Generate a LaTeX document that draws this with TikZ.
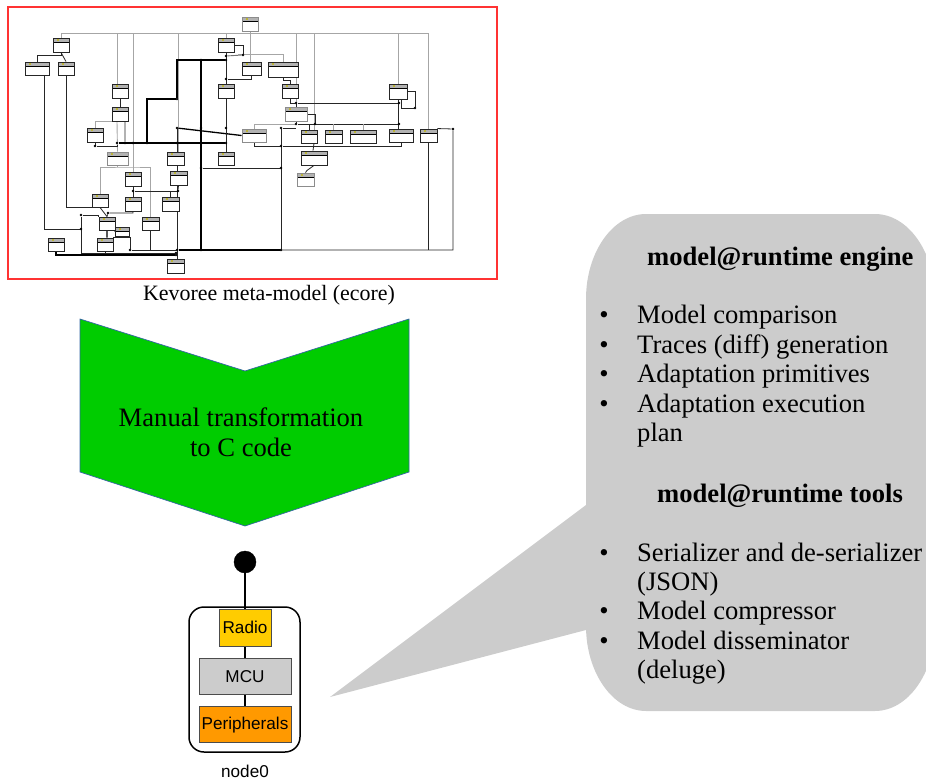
\documentclass[tikz,border=0pt]{standalone}
\usepackage{fontspec}
\setmainfont{Liberation Serif}
\setsansfont{Liberation Sans}
\usepackage{tikz}
\usetikzlibrary{backgrounds,fit,calc}

\definecolor{framered}{HTML}{FF3333}
\definecolor{arrowgreen}{HTML}{00CC00}
\definecolor{arrowedge}{HTML}{3465A4}
\definecolor{bubblegrey}{HTML}{CCCCCC}
\definecolor{radioyellow}{HTML}{FFCC00}
\definecolor{periorange}{HTML}{FF9900}

\begin{document}
\begin{tikzpicture}[x=1bp,y=-1bp]
    % `classbox' is one class of the meta-model, `greybox' a faded one.
    % `joint' is a small dot where the black links meet.
    % `link', `heavylink' and `inherit' are the meta-model lines.
    \tikzstyle{classbox} = [draw=black!85,line width=0.9bp,fill=white,inner sep=0pt,path picture={
\fill[black!30] (path picture bounding box.north west) rectangle ([yshift=-4bp]path picture bounding box.north east);
\fill[yellow!70!black] ([xshift=4bp,yshift=-1bp]path picture bounding box.north west) rectangle ++(2,2);
\draw[black,line width=0.6bp] ([yshift=-4bp]path picture bounding box.north west) -- ([yshift=-4bp]path picture bounding box.north east);
}]
    \tikzstyle{greybox} = [classbox,draw=black!45]
    \tikzstyle{joint} = [draw=none,fill=black,shape=circle,minimum size=2.6bp,inner sep=0pt]
    \tikzstyle{link} = [draw=black!85,line width=0.8bp]
    \tikzstyle{heavylink} = [draw=black,line width=1.3bp]
    \tikzstyle{inherit} = [draw=black!35,line width=0.9bp]
    \tikzstyle{bigtext} = [font=\fontsize{26.7}{30}\selectfont,inner sep=0pt]
    \tikzstyle{hwbox} = [draw=black!70,line width=0.7bp,font=\fontsize{17.2}{20}\sffamily\selectfont,inner sep=0pt]
    %
    \useasboundingbox (0,0) rectangle (926,779);
    % Meta-model frame and classes.
    \node[draw=framered,line width=1.8bp,minimum width=489bp,minimum height=272bp] (frame) at (252.5,143) {};
    \foreach \cname/\cx/\cy/\cw/\ch in {
      c1/61/45/16/14, c2/37/68.5/24/13, c3/66/68.5/16/13, c5/226/45/16/14,
      c6/226/91/16/14, c7/120/91/16/14, c8/120/114/16/14, c9/95/135/16/14,
      c10/251.5/68.5/19/13, c11/283/69.5/30/15, c12/290/91/16/14, c13/398/91.5/18/15,
      c16/309/136.5/16/13, c17/333.5/136.5/17/13, c18/363/136.5/26/13, c19/401/135.5/24/13,
      c20/428.5/135.5/17/13, c22/175.5/158.5/17/13, c23/226/158.5/16/13, c24/133/179/16/14,
      c25/178.5/178/17/14, c26/100/200.5/16/13, c27/133/204/16/14, c28/170.5/204/17/14,
      c29/107/223.5/16/13, c30/150.5/223.5/17/13, c31/122/231.5/14/9, c32/56/244.5/16/13,
      c33/105/244.5/16/13, c34/175.5/266/17/14, c35/314/158/26/14}
      \node[classbox,minimum width=\cw bp,minimum height=\ch bp] (\cname) at (\cx,\cy) {};
    \foreach \cname/\cx/\cy/\cw/\ch in {
      c4/250/24/16/14, c14/296/114/22/14, c15/254/135.5/24/13, c21/117.5/158.5/21/13, c36/305.5/179.5/17/13}
      \node[greybox,minimum width=\cw bp,minimum height=\ch bp] (\cname) at (\cx,\cy) {};
    % Points where the lines meet.
    \foreach \jname/\jx/\jy in {
      ja/147/143, jb/177/99, jc/226/60, jd/201/60, je/201/250, jf/177/128, jg/281/128,
      jh/117/143, ji/281/146, jk/201/168, jl/281/168, jm/281/250, jn/177/250, jo/453/129,
      jp/296/103, jq/399/103, jr/296/124, js/399/124, jt/315/124, ju/415/108, jv/133/191,
      jw/178/191, jx/108/213, jy/81/215, jz/81/229, ka/176/253, kb/130/250, kc/176/255,
      kd/226/79, ke/226/56, kf/243/55, kg/95/146, kh/201/128, ki/226/128, kk/177/143, kl/226/143,
      km/125/143, kn/133/143}
      \node[joint] (\jname) at (\jx,\jy) {};
    \coordinate (bus) at (250,33);
    \coordinate (subbus) at (238,54);
    \coordinate (fadebus) at (130,167);
    %
    \begin{pgfonlayer}{background}
        % Draw inheritance lines.
        \draw[inherit] (c1.north) |- (bus) -| (c20.north);
        \draw[inherit] ([xshift=-3bp]c7.north) |- (bus);
        \draw[inherit] (c24.north) |- (bus);
        \draw[inherit] ([xshift=2.5bp]c22.north) |- (bus);
        \draw[inherit] (c5.north) |- (bus);
        \draw[inherit] (c14.north) |- (bus);
        \draw[inherit] ([xshift=5bp]c16.north) |- (bus);
        \draw[inherit] (c13.north) |- (bus);
        \draw[inherit] (c4.south) -- (c4.south |- c10.north);
        \draw[inherit] (c11.north) |- (subbus);
        \draw[inherit] (c9.north) |- (c8.south);
        \draw[inherit] ([xshift=-3bp]c8.south) -- (c21.north);
        \draw[inherit] (c26.north) |- (fadebus) -| (c30.north);
        \draw[inherit] (c21.south) -- (c21.south |- fadebus);
        \draw[inherit,line width=0.6bp] (c15.north) |- (jr);
        % Draw links.
        \draw[link] (c2.north) |- ([yshift=-3bp]c1.south) -- (c1.south);
        \draw[link] (c3.north) -- (c1.south);
        \draw[link] ([xshift=7bp]c2.south) |- (jz);
        \draw[link] (c3.south) |- (c26.south west);
        \draw[heavylink] (ja) |- (jb) |- (jc);
        \draw[heavylink] (jd) -- (je);
        \draw[heavylink] (jh) -- (kl);
        \draw[heavylink] (jf) -- (c15.west);
        \draw[link] (jg) -- (jp |- jg);
        \draw[link] (c15.south) |- (ji) -| (c19.south);
        \draw[link] ([xshift=5bp]c8.south) -- (km);
        \draw[link] (c9.south) |- (kg) -| (jh);
        \draw[link] (c7.south) -- (c8.north);
        \draw[link] (c5.south) -- (c6.north);
        \draw[link] (c6.south) -- (c23.north);
        \draw[link] (c10.south) |- (kd);
        \draw[link] (c5.east) -| (kf);
        \draw[inherit,draw=black!55] (ke) -- (kf);
        \draw[link] (jk) -- (jl);
        \draw[link] (jg) -- (jm);
        \draw[link] (jf) -- (jf |- c34.north);
        \draw[link] (jn) -| (jo) -- (c20.north east);
        \draw[link] (c20.south) -- (c20.south |- jn);
        \draw[link] (jp) -- (jq);
        \draw[link] (jr) -- (js);
        \draw[link] (c13.east) -| (ju) -| ([xshift=3bp]c13.south);
        \draw[link] (c13.south) -- (c13.south |- c19.north);
        \draw[link] (c11.south) -- ++(0,3) -| (c12.north);
        \draw[link] (c12.south) |- (jp);
        \draw[link] (jp) -- (c14.north);
        \draw[link] (c14.south) -- (jr);
        \draw[link] (c14.east) -| (jt);
        \draw[link] (c16.north) -- (c16.north |- jr);
        \draw[inherit,line width=0.6bp] (c18.north) -- (c18.north |- jr);
        \draw[inherit,line width=0.6bp] (c17.north) -- (c17.north |- jr);
        \draw[link] ([xshift=5bp]c16.south) -- ([xshift=-1bp]c35.north);
        \draw[link] (c35.south) -- ++(-7,5) -- (c36.north);
        \draw[link] (c24.south) -- (c27.north);
        \draw[link] (jv) -- (jw);
        \draw[link] (c25.south) -- (jw);
        \draw[link] (c28.north) -- (c28.north |- jv);
        \draw[link] (c26.south) -- (c29.north);
        \draw[link] (c27.south) |- (jx) -- (c29.north);
        \draw[heavylink] (c29.south) -- ([xshift=2bp]c33.north);
        \draw[link] (c29.north west) |- (jy) |- (ka);
        \draw[link] (jz) -- (jy);
        \draw[link] (c29.east) -- (c31.west);
        \draw[link] (c33.north east) -| (kb) -- (jn);
        \draw[link] (c30.south) |- (jn);
        \draw[heavylink] (c32.south) |- (kc);
        \draw[link] (c33.south) -- (c33.south |- ka);
        \draw[heavylink] (jn) -- (jm);
    \end{pgfonlayer}
    \node[font=\fontsize{22}{26}\selectfont,inner sep=0pt,anchor=base] (caption) at (269,300) {Kevoree meta-model (ecore)};
    % Draw the big arrow.
    \coordinate (arrowtip) at (245,526);
    \draw[draw=arrowedge,fill=arrowgreen,line width=0.7bp] (80,319) -- (245,371) -- (409,319) -- (409,472) -- (arrowtip) -- (80,472) -- cycle;
    \node[bigtext,align=center] (manual) at (241,432) {Manual transformation\\to C code};
    % Draw the node.
    \matrix[row sep=11.5bp] (stack) at (245,676) {
      \node[hwbox,fill=radioyellow,minimum width=52bp,minimum height=37bp] (radio) {Radio}; \\
      \node[hwbox,fill=bubblegrey,minimum width=92bp,minimum height=36bp] (mcu) {MCU}; \\
      \node[hwbox,fill=periorange,minimum width=92bp,minimum height=36bp] (peri) {Peripherals}; \\
    };
    \node[draw=black,fill=black,shape=circle,minimum size=22bp,inner sep=0pt] (sink) at (245,562) {};
    \begin{pgfonlayer}{background}
        \node[draw=black,line width=1.5bp,rounded corners=15bp,minimum width=111bp,minimum height=145bp] (surround) at (244.5,679.5) {};
        \draw[line width=1.5bp] (sink) -- (radio) (radio) -- (mcu) (mcu) -- (peri);
    \end{pgfonlayer}
    \node[font=\fontsize{17.2}{20}\sffamily\selectfont,inner sep=0pt] (nodelabel) at (245,771) {node0};
    % Draw the speech bubble.
    \coordinate (bubbletip) at (330,697);
    \begin{scope}
      \clip (0,0) rectangle (926,779);
      \fill[bubblegrey] (586,299) .. controls (586,252) and (613,214) .. (646,214) -- (875,214)
        .. controls (908,214) and (935,252) .. (935,299) -- (935,626)
        .. controls (935,673) and (908,711) .. (875,711) -- (646,711)
        .. controls (613,711) and (586,673) .. (586,626) -- (586,630) -- (bubbletip) -- (586,505) -- cycle;
    \end{scope}
    \foreach \lname/\lx/\ly/\ltext in {
      l1/637/323/Model comparison, l2/637/353/Traces (diff) generation, l3/637/382/Adaptation primitives,
      l4/637/412/Adaptation execution, l5/637/441/plan, l6/637/561/Serializer and de-serializer,
      l7/637/590/(JSON), l8/637/619/Model compressor, l9/637/649/Model disseminator, l10/637/678/(deluge)}
      \node[bigtext,anchor=base west] (\lname) at (\lx,\ly) {\ltext};
    \foreach \bname/\by in {b1/323, b2/353, b3/382, b4/412, b6/561, b8/619, b9/649}
      \node[bigtext,anchor=base] (\bname) at (604,\by) {\textbullet};
    \node[bigtext,anchor=base west,font=\fontsize{26.7}{30}\bfseries\selectfont] (engine) at (647,265) {model@runtime engine};
    \node[bigtext,anchor=base west,font=\fontsize{26.7}{30}\bfseries\selectfont] (tools) at (657,502) {model@runtime tools};
\end{tikzpicture}
\end{document}
